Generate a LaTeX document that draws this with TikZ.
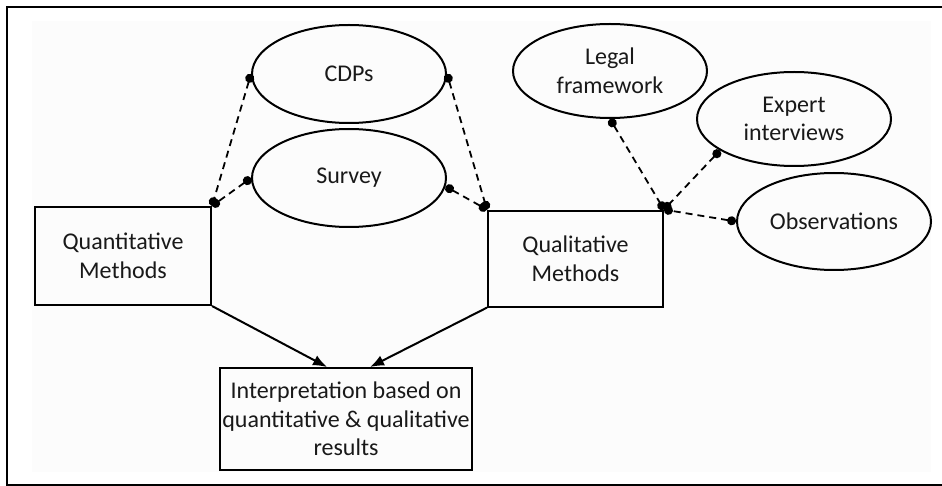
\documentclass[tikz,border=0pt]{standalone}
\usepackage{fontspec}
\setmainfont{Carlito}
\usetikzlibrary{shapes.geometric,arrows.meta,calc}
\begin{document}
\begin{tikzpicture}[x=1pt,y=-1pt,
  lbl/.style={font=\fontsize{24}{28.5}\selectfont, align=center, text=black!90},
  oval/.style={lbl, draw, ellipse, line width=2pt, inner sep=0pt, minimum width=194pt},
  boxnode/.style={lbl, draw, rectangle, line width=2pt, inner sep=0pt},
  link/.style={dashed, dash pattern=on 7pt off 5pt, line width=1.8pt, {Circle[length=9pt]}-{Circle[length=9pt]}},
  flow/.style={line width=2pt, -{Latex[length=14pt,width=11pt]}}]
\useasboundingbox (0,0) rectangle (942,486);
\fill[black!1] (32,21) rectangle (931,472);
\draw[line width=2.4pt] (942,7) -- (7,7) -- (7,485) -- (942,485);
% ellipses
\node[oval, minimum height=98pt] (cdp) at (349,74) {CDPs};
\node[oval, minimum height=98pt] (survey) at (349,178) {Survey};
\node[oval, minimum height=94pt] (legal) at (610,71) {Legal\\framework};
\node[oval, minimum height=94pt] (expert) at (794,119) {Expert\\interviews};
\node[oval, minimum height=97pt] (obs) at (834,221.5) {Observations};
% boxes
\node[boxnode, minimum width=176pt, minimum height=98pt] (quant) at (123,256) {Quantitative\\Methods};
\node[boxnode, minimum width=175pt, minimum height=96pt] (qual) at (575.5,258.6) {Qualitative\\Methods};
\node[boxnode, minimum width=252pt, minimum height=102pt] (interp) at (346,419) {Interpretation based on\\quantitative \& qualitative\\results};
% dashed links
\draw[link] (cdp.west) -- (quant.north east);
\draw[link] (survey.west) -- (quant.north east);
\draw[link] (cdp.east) -- (qual.north west);
\draw[link] (survey.-5) -- (qual.north west);
\draw[link] (legal.south) -- (qual.north east);
\draw[link] (expert.203) -- (qual.north east);
\draw[link] (obs.west) -- (qual.north east);
% arrows
\draw[flow] (quant.south east) -- ($(interp.north)+(-19pt,0)$);
\draw[flow] (qual.south west) -- ($(interp.north)+(24pt,0)$);
\end{tikzpicture}
\end{document}
